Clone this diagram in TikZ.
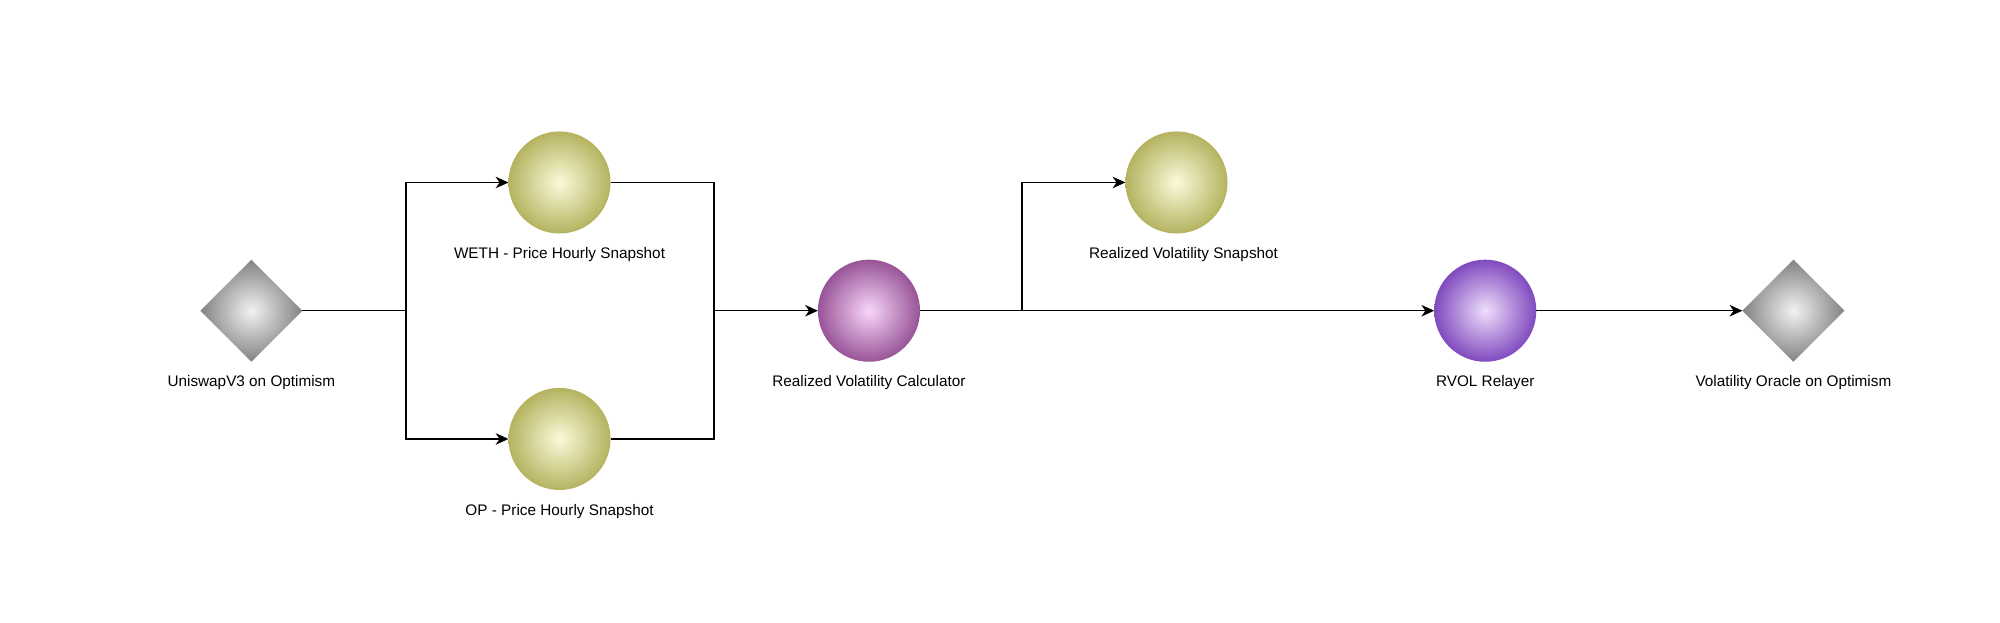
\documentclass[tikz,border=0pt]{standalone}
\usepackage{fontspec}
\setmainfont{Liberation Sans}
\usepackage{tikz}
\usetikzlibrary{shapes.geometric,arrows.meta,positioning}

\definecolor{grayin}{RGB}{242,242,242}
\definecolor{grayout}{RGB}{130,130,130}
\definecolor{olivein}{RGB}{250,250,218}
\definecolor{oliveout}{RGB}{181,179,96}
\definecolor{pinkin}{RGB}{248,214,248}
\definecolor{pinkout}{RGB}{152,84,152}
\definecolor{violin}{RGB}{238,222,252}
\definecolor{violout}{RGB}{128,74,190}

\begin{document}
\begin{tikzpicture}[x=1pt, y=-1pt, node distance=10.5pt]
    \tikzset{
        diam/.style     =   { diamond
                            , aspect=1
                            , inner sep=0
                            , outer sep=0
                            , minimum width=80pt
                            , minimum height=80pt
                            , shade
                            , inner color=grayin
                            , outer color=grayout
        }
        , ball/.style   =   { circle
                            , inner sep=0
                            , outer sep=0
                            , minimum size=80pt
                            , shade
        }
        , lbl/.style    =   { inner sep=0
                            , text height=9pt
                            , text depth=2.5pt
                            , font=\fontsize{12pt}{14pt}\selectfont
        }
        , line/.style   =   { line width=1.2pt
        }
        , arrow/.style  =   { line width=1.2pt
                            , -{Stealth[length=10pt, width=9pt, inset=3pt]}
        }
    }
    \useasboundingbox (0,0) rectangle (1567.4,488.2);

    \node(0)[diam] at (197,243.5) {};
    \node(1)[ball, inner color=olivein, outer color=oliveout] at (438.5,143) {};
    \node(2)[ball, inner color=olivein, outer color=oliveout] at (438.5,344) {};
    \node(3)[ball, inner color=pinkin, outer color=pinkout] at (681,243.5) {};
    \node(4)[ball, inner color=olivein, outer color=oliveout] at (922,143) {};
    \node(5)[ball, inner color=violin, outer color=violout] at (1164,243.5) {};
    \node(6)[diam] at (1405.5,243.5) {};

    \node(l0)[lbl, below=of 0] {UniswapV3 on Optimism};
    \node(l1)[lbl, below=of 1] {WETH - Price Hourly Snapshot};
    \node(l2)[lbl, below=of 2] {OP - Price Hourly Snapshot};
    \node(l3)[lbl, below=of 3] {Realized Volatility Calculator};
    \node(l4)[lbl, below=of 4, xshift=5.5pt] {Realized Volatility Snapshot};
    \node(l5)[lbl, below=of 5] {RVOL Relayer};
    \node(l6)[lbl, below=of 6] {Volatility Oracle on Optimism};

    \coordinate(j1) at (318,243.5);
    \coordinate(j2) at (559.5,243.5);
    \coordinate(j3) at (801,243.5);

    \draw[line]  (0) -- (j1);
    \draw[arrow] (j1) |- (1);
    \draw[arrow] (j1) |- (2);
    \draw[line]  (1) -| (j2);
    \draw[line]  (2) -| (j2);
    \draw[arrow] (j2) -- (3);
    \draw[line]  (3) -- (j3);
    \draw[arrow] (j3) |- (4);
    \draw[arrow] (j3) -- (5);
    \draw[arrow] (5) -- (6);
\end{tikzpicture}
\end{document}
